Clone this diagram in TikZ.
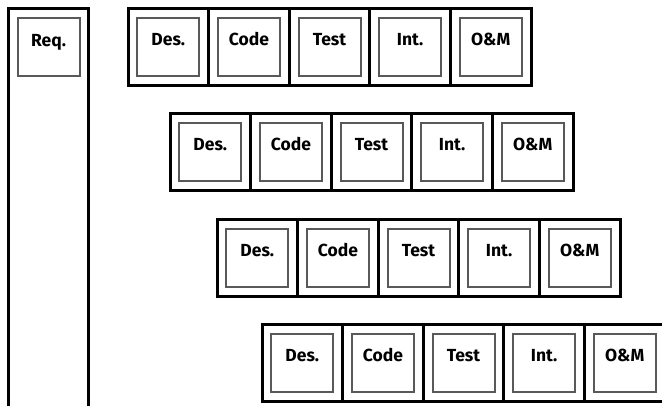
\documentclass[tikz,border=0pt]{standalone}
\usepackage{fontspec}
\setsansfont{Fira Sans}
\begin{document}
\begin{tikzpicture}[x=1pt,y=-1pt,
  cell/.style={draw=black, line width=3pt, minimum width=80.6pt, minimum height=77pt, inner sep=0pt, outer sep=0pt, anchor=north west},
  phase/.style={draw=black!65, line width=2pt, minimum width=62pt, minimum height=58pt, inner sep=0pt,
    font=\sffamily\bfseries\fontsize{17.5}{17.5}\selectfont, text height=13pt, text depth=15pt}]
\useasboundingbox (0,0) rectangle (662,405);
\node[cell, minimum height=399pt] (reqcol) at (8,8) {};
\node[phase] (req) at (48.5,47) {Req.};
\foreach \r/\xx/\yy in {1/128/8, 2/170/113, 3/217/219, 4/262/324}{
  \foreach \t [count=\c] in {Des.,Code,Test,Int.,O\&M}{
    \node[cell] (c\r\c) at ({\xx+(\c-1)*80.6},\yy) {};
    \node[phase] (p\r\c) at (c\r\c.center) {\t};
  }
}
\end{tikzpicture}
\end{document}
